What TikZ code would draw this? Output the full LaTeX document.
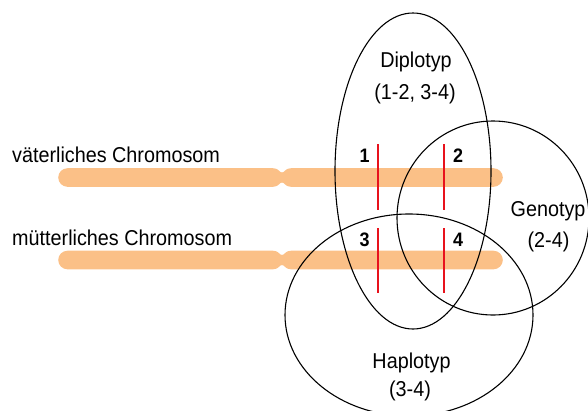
\documentclass[tikz,border=0pt]{standalone}
\usepackage{fontspec}
\setmainfont{Liberation Sans}[FakeStretch=0.92]
\usetikzlibrary{shapes.geometric}
\definecolor{chromo}{RGB}{251,192,135}
\definecolor{locus}{RGB}{232,18,28}
\tikzset{
  settype/.style={ellipse, draw=black, line width=1.1pt, inner sep=0pt},
  label text/.style={font=\fontsize{21.5}{26}\selectfont, inner sep=0pt, anchor=base},
  locus num/.style={font=\fontsize{19.5}{24}\selectfont\bfseries, inner sep=0pt, anchor=base},
  locus mark/.style={draw=locus, line width=2.2pt},
}
\begin{document}
\begin{tikzpicture}[x=1pt, y=-1pt]
\useasboundingbox (0,0) rectangle (588,410);

% the two homologous chromosomes with their centromere constriction
\foreach \cy in {177.5, 260} {
  \fill[chromo] (67.5,\cy-9.3) -- (273,\cy-9.3)
    .. controls (279,\cy-9.3) and (279,\cy-5) .. (282,\cy-5)
    .. controls (285,\cy-5) and (285,\cy-9.3) .. (291,\cy-9.3)
    -- (493.5,\cy-9.3) arc[start angle=-90, end angle=90, radius=9.3]
    -- (291,\cy+9.3)
    .. controls (285,\cy+9.3) and (285,\cy+5) .. (282,\cy+5)
    .. controls (279,\cy+5) and (279,\cy+9.3) .. (273,\cy+9.3)
    -- (67.5,\cy+9.3) arc[start angle=90, end angle=270, radius=9.3] -- cycle;
}

\node[label text, anchor=base west] (pat) at (12,162) {väterliches Chromosom};
\node[label text, anchor=base west] (mat) at (12,245.5) {mütterliches Chromosom};

% loci on both chromosomes
\coordinate (l1a) at (378,144); \coordinate (l1b) at (378,210);
\coordinate (l2a) at (444,144); \coordinate (l2b) at (444,210);
\coordinate (l3a) at (378,228); \coordinate (l3b) at (378,293);
\coordinate (l4a) at (444,228); \coordinate (l4b) at (444,293);
\draw[locus mark] (l1a) -- (l1b);
\draw[locus mark] (l2a) -- (l2b);
\draw[locus mark] (l3a) -- (l3b);
\draw[locus mark] (l4a) -- (l4b);

\node[locus num] (n1) at (364.5,162.5) {1};
\node[locus num] (n2) at (458,162.5) {2};
\node[locus num] (n3) at (364.5,246.5) {3};
\node[locus num] (n4) at (458,246.5) {4};

% the three groupings
\node[settype, minimum width=156pt, minimum height=316pt] (diplo) at (413,171) {};
\node[settype, minimum width=192pt, minimum height=194pt] (geno) at (493,218) {};
\node[settype, minimum width=248pt, minimum height=202pt] (haplo) at (409,315) {};

\node[label text] (tdiplo) at (416,67.7) {Diplotyp};
\node[label text] (tdiplo2) at (415,99) {(1-2, 3-4)};
\node[label text] (tgeno) at (548,216.7) {Genotyp};
\node[label text] (tgeno2) at (548.5,247.5) {(2-4)};
\node[label text] (thaplo) at (411.5,368.3) {Haplotyp};
\node[label text] (thaplo2) at (410,396.7) {(3-4)};
\end{tikzpicture}
\end{document}
